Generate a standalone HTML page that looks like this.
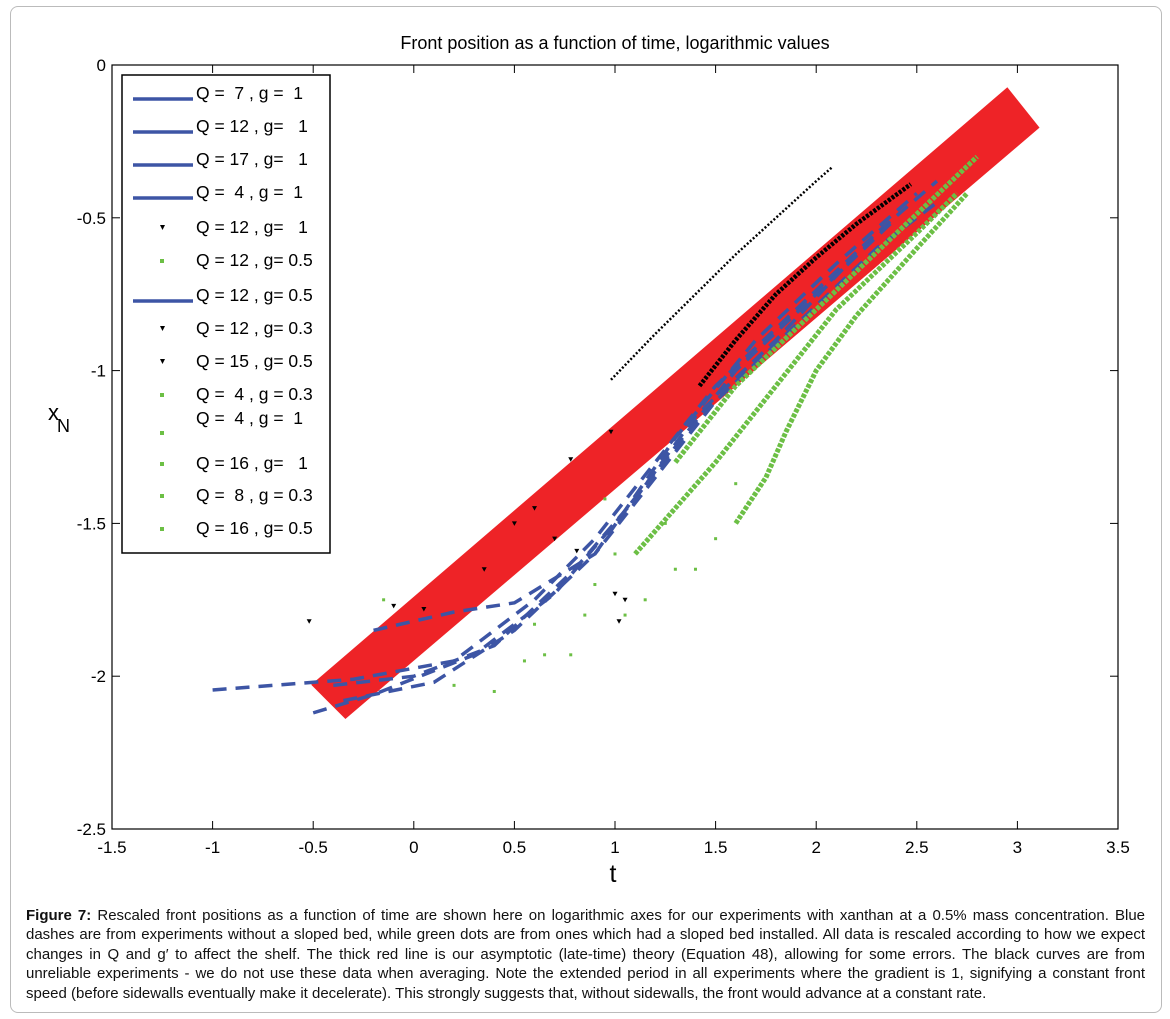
<!DOCTYPE html>
<html><head><meta charset="utf-8">
<style>
html,body{margin:0;padding:0;background:#fff;}
body{width:1170px;height:1019px;position:relative;overflow:hidden;font-family:"Liberation Sans",Arial,sans-serif;}
#frame{position:absolute;left:10px;top:6px;width:1150px;height:1005px;border:1px solid #bbb;border-radius:8px;}
#caption{position:absolute;left:26px;top:906px;width:1119px;font-size:15px;line-height:19.4px;text-align:justify;color:#111;}
</style></head>
<body>
<div id="frame"></div>
<svg id="chart" width="1170" height="890" style="position:absolute;left:0;top:0"></svg>
<div id="caption"><b>Figure 7:</b> Rescaled front positions as a function of time are shown here on logarithmic axes for our experiments with xanthan at a 0.5% mass concentration. Blue dashes are from experiments without a sloped bed, while green dots are from ones which had a sloped bed installed. All data is rescaled according to how we expect changes in Q and g′ to affect the shelf. The thick red line is our asymptotic (late-time) theory (Equation 48), allowing for some errors. The black curves are from unreliable experiments - we do not use these data when averaging. Note the extended period in all experiments where the gradient is 1, signifying a constant front speed (before sidewalls eventually make it decelerate). This strongly suggests that, without sidewalls, the front would advance at a constant rate.</div>
<script>
const xTicks=[-1.5,-1,-0.5,0,0.5,1,1.5,2,2.5,3,3.5];
const yTicks=[0,-0.5,-1,-1.5,-2,-2.5];
const theoryUpperT=[-0.51,2.95];
const theoryLowerT=[-0.34,3.11];
const theoryUpper=[-2.028,-0.073];
const theoryLower=[-2.14,-0.205];
const blue1=[[-1.0,-2.045],[-0.3,-2.01],[0.2,-1.95],[0.6,-1.75],[0.9,-1.55],[1.2,-1.3],[1.5,-1.05],[1.9,-0.8],[2.3,-0.55],[2.6,-0.38]];
const blue2=[[-0.5,-2.12],[-0.2,-2.06],[0.3,-1.93],[0.7,-1.73],[1.0,-1.5],[1.3,-1.25],[1.6,-1.0],[2.0,-0.75],[2.4,-0.5]];
const blue3=[[-0.2,-1.85],[0.2,-1.79],[0.5,-1.76],[0.9,-1.6],[1.2,-1.35],[1.5,-1.1],[1.9,-0.85],[2.3,-0.6],[2.6,-0.45]];
const blue4=[[-0.4,-2.03],[0.0,-2.0],[0.4,-1.9],[0.8,-1.65],[1.1,-1.42],[1.4,-1.15],[1.8,-0.9],[2.2,-0.62]];
const blue5=[[-0.35,-2.08],[0.1,-2.02],[0.5,-1.85],[0.9,-1.6],[1.3,-1.22],[1.7,-0.9],[2.1,-0.65],[2.5,-0.42]];
const green1=[[1.3,-1.3],[1.6,-1.05],[2.0,-0.8],[2.4,-0.55],[2.8,-0.3]];
const green2=[[1.1,-1.6],[1.5,-1.3],[1.8,-1.05],[2.1,-0.8],[2.5,-0.55],[2.7,-0.42]];
const green3=[[1.6,-1.5],[1.75,-1.35],[1.85,-1.2],[2.0,-1.0],[2.2,-0.82],[2.5,-0.6],[2.75,-0.42]];
const greenScatter=[[-0.15,-1.75],[0.2,-2.03],[0.4,-2.05],[0.55,-1.95],[0.65,-1.93],[0.78,-1.93],[0.6,-1.83],[0.85,-1.8],[1.05,-1.8],[1.15,-1.75],[1.3,-1.65],[1.4,-1.65],[1.5,-1.55],[1.6,-1.37],[1.0,-1.6],[0.9,-1.7],[1.25,-1.5],[0.95,-1.42]];
const blackCurve=[[0.98,-1.03],[1.2,-0.88],[1.4,-0.75],[1.6,-0.62],[1.8,-0.5],[2.0,-0.38],[2.08,-0.334]];
const blackDense=[[1.42,-1.05],[1.6,-0.9],[1.8,-0.75],[2.0,-0.63],[2.2,-0.52],[2.47,-0.39]];
const blackScatter=[[-0.52,-1.82],[-0.1,-1.77],[0.05,-1.78],[0.35,-1.65],[0.5,-1.5],[0.78,-1.29],[0.98,-1.2],[1.0,-1.73],[1.05,-1.75],[1.02,-1.82],[0.7,-1.55],[0.81,-1.59],[0.6,-1.45]];
const legendLabels=["Q =  7 , g =  1","Q = 12 , g=   1","Q = 17 , g=   1","Q =  4 , g =  1","Q = 12 , g=   1","Q = 12 , g= 0.5","Q = 12 , g= 0.5","Q = 12 , g= 0.3","Q = 15 , g= 0.5","Q =  4 , g = 0.3","Q =  4 , g =  1","Q = 16 , g=   1","Q =  8 , g = 0.3","Q = 16 , g= 0.5"];
const legendKinds=["line","line","line","line","black","green","line","black","black","green","green","green","green","green"];

const NS="http://www.w3.org/2000/svg";
const svg=document.getElementById('chart');
const X0=112,X1=1118,Y0=65,Y1=829;
const sx=t=>X0+(t+1.5)/5*(X1-X0);
const sy=v=>Y0+(0-v)/2.5*(Y1-Y0);
function mk(tag,attrs,parent){const e=document.createElementNS(NS,tag);for(const k in attrs)e.setAttribute(k,attrs[k]);(parent||svg).appendChild(e);return e;}

const title=mk('text',{x:615,y:49,'text-anchor':'middle','font-size':18,fill:'#000'});
title.textContent='Front position as a function of time, logarithmic values';



const axes=mk('rect',{x:X0,y:Y0,width:X1-X0,height:Y1-Y0,fill:'none',stroke:'#000','stroke-width':1.2});



xTicks.forEach(t=>{const x=sx(t);
 mk('line',{x1:x,x2:x,y1:Y1,y2:Y1-8,stroke:'#000'});mk('line',{x1:x,x2:x,y1:Y0,y2:Y0+8,stroke:'#000'});
 const l=mk('text',{x:x,y:Y1+24,'text-anchor':'middle','font-size':17});l.textContent=String(t);
 
 });
yTicks.forEach(v=>{const y=sy(v);
 mk('line',{x1:X0,x2:X0+8,y1:y,y2:y,stroke:'#000'});mk('line',{x1:X1,x2:X1-8,y1:y,y2:y,stroke:'#000'});
 const l=mk('text',{x:X0-6,y:y+6,'text-anchor':'end','font-size':17});l.textContent=String(v);
 
 });
const xl=mk('text',{x:613,y:882,'text-anchor':'middle','font-size':25});xl.textContent='t';


const yl=mk('text',{x:48,y:420,'font-size':22});yl.innerHTML='x<tspan dx="-2" dy="12" font-size="18">N</tspan>';



const band=mk('polygon',{points:[[sx(theoryUpperT[0]),sy(theoryUpper[0])],[sx(theoryUpperT[1]),sy(theoryUpper[1])],[sx(theoryLowerT[1]),sy(theoryLower[1])],[sx(theoryLowerT[0]),sy(theoryLower[0])]].map(p=>p.join(',')).join(' '),fill:'#ee2327'});



function pl(d){return d.map(p=>sx(p[0])+','+sy(p[1])).join(' ');}
[blue1,blue2,blue3,blue4,blue5].forEach((s,i)=>{
 const e=mk('polyline',{points:pl(s),fill:'none',stroke:'#3d55a5','stroke-width':3.5,'stroke-dasharray':'14 9'});
 
 });
[green1,green2,green3].forEach((s,i)=>{
 const e=mk('polyline',{points:pl(s),fill:'none',stroke:'#6cbf45','stroke-width':5,'stroke-dasharray':'4 1.5'});
 
 });
greenScatter.forEach(p=>{const e=mk('rect',{x:sx(p[0])-1.5,y:sy(p[1])-1.5,width:3,height:3,fill:'#6cbf45'});
 
 });
[blackCurve,blackDense].forEach((s,i)=>{
 const e=mk('polyline',{points:pl(s),fill:'none',stroke:'#000','stroke-width':i?4.5:2.5,'stroke-dasharray':i?'3 1.5':'2 2'});
 
 });
blackScatter.forEach(p=>{const x=sx(p[0]),y=sy(p[1]);
 const e=mk('polygon',{points:`${x-2.5},${y-2} ${x+2.5},${y-2} ${x},${y+2.5}`,fill:'#000'});
 
 });

const lg=mk('g',{});


mk('rect',{x:122,y:75,width:208,height:478,fill:'#fff',stroke:'#000','stroke-width':1.5},lg);
const rowY=[93,126,159,192,227,260,295,328,361,394,418,463,495,528];
legendLabels.forEach((lab,i)=>{
 const y=rowY[i];
 const g=mk('g',{},lg);
 
 
 const k=legendKinds[i];
 if(k==='line')mk('line',{x1:133,x2:193,y1:y+6,y2:y+6,stroke:'#3d55a5','stroke-width':3.5},g);
 else if(k==='black')mk('polygon',{points:`${160},${y-2} ${165},${y-2} ${162.5},${y+3}`,fill:'#000'},g);
 else mk('rect',{x:160,y:y+(i===10?13:-1),width:4,height:4,fill:'#6cbf45'},g);
 const t=mk('text',{x:196,y:y+6,'font-size':17.5},g);t.textContent=lab;t.setAttribute('style','white-space:pre');
});
</script>
</body></html>
